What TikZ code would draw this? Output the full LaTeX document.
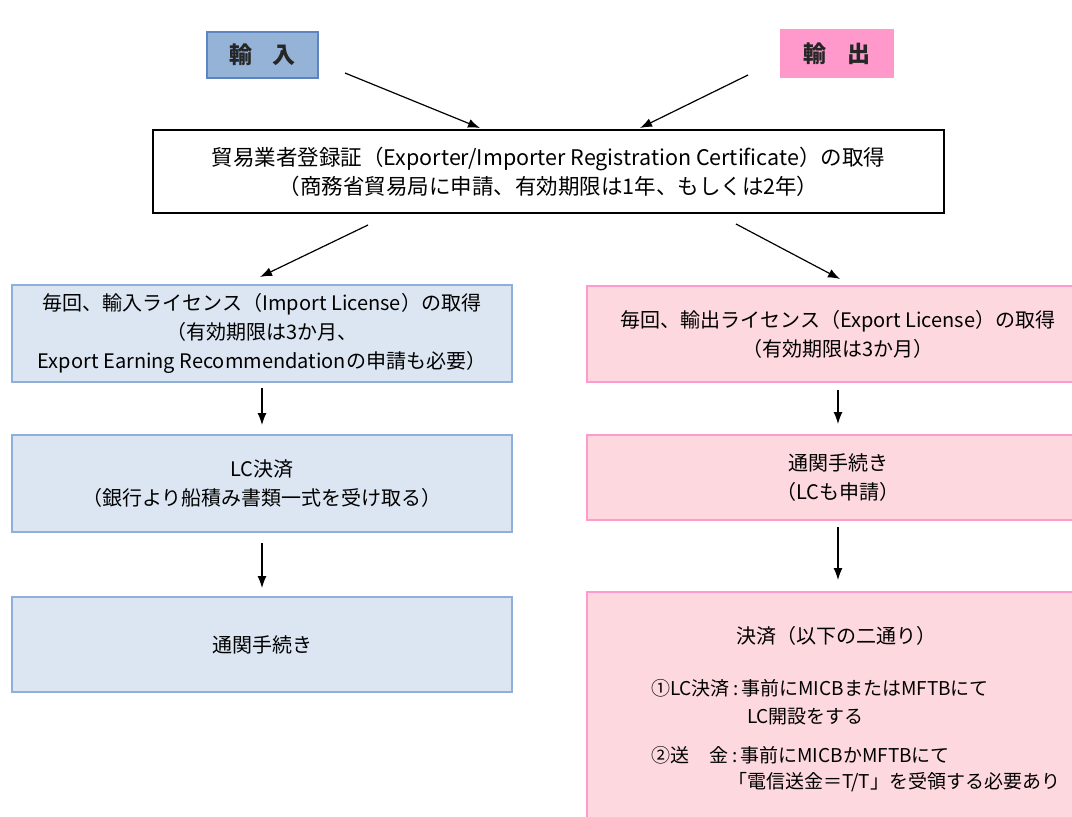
\documentclass[tikz,border=0pt]{standalone}
\usepackage{fontspec}
\setmainfont{Noto Sans CJK JP}
\usetikzlibrary{arrows.meta}
\definecolor{impfill}{HTML}{95B3D7}
\definecolor{impline}{HTML}{5B84C0}
\definecolor{expfill}{HTML}{FF99CC}
\definecolor{lfill}{HTML}{DCE6F2}
\definecolor{lline}{HTML}{8EAFD8}
\definecolor{rfill}{HTML}{FDD9DF}
\definecolor{rline}{HTML}{FF9ACD}
\tikzset{
  box/.style={draw, rectangle, inner sep=0pt, outer sep=0pt, align=center,
    font=\fontsize{20}{29}\selectfont, line width=1.4pt},
  lbox/.style={box, fill=lfill, draw=lline, minimum width=500pt},
  rbox/.style={box, fill=rfill, draw=rline, minimum width=502pt},
  head/.style={box, font=\fontsize{23}{26}\selectfont\bfseries, text=black!85},
  txt/.style={inner sep=0pt, outer sep=0pt, anchor=west, font=\fontsize{19}{29}\selectfont},
  arr/.style={-{Latex[length=12pt,width=9pt]}, line width=1.2pt, black}
}
\begin{document}
\begin{tikzpicture}[x=1pt,y=-1pt]
\clip (0,0) rectangle (1072,817);
\fill[white] (0,0) rectangle (1072,817);

\node[head, fill=impfill, draw=impline, minimum width=111pt, minimum height=46pt] (imp) at (262.5,55) {輸\hspace{0.9em}入};
\node[head, fill=expfill, draw=expfill, minimum width=112pt, minimum height=47pt] (exp) at (837,53.5) {輸\hspace{0.9em}出};

\node[box, fill=white, draw=black, line width=1.2pt, minimum width=791pt, minimum height=83pt,
  font=\fontsize{21.5}{29}\selectfont] (reg) at (548.5,171.5)
  {貿易業者登録証（Exporter/Importer Registration Certificate）の取得\\（商務省貿易局に申請、有効期限は1年、もしくは2年）};

\node[lbox, minimum height=97pt] (L1) at (262,333.5)
  {毎回、輸入ライセンス（Import License）の取得\\（有効期限は3か月、\\Export Earning Recommendationの申請も必要）};
\node[lbox, minimum height=97pt] (L2) at (262,483.5)
  {LC決済\\（銀行より船積み書類一式を受け取る）};
\node[lbox, minimum height=95pt] (L3) at (262,644.5) {通関手続き};

\node[rbox, minimum height=96pt] (R1) at (838,334)
  {毎回、輸出ライセンス（Export License）の取得\\（有効期限は3か月）};
\node[rbox, minimum height=85pt] (R2) at (838,477.5)
  {通関手続き\\（LCも申請）};
\node[rbox, minimum height=240pt] (R3) at (838,712) {};

\node[txt, anchor=center, font=\fontsize{20}{29}\selectfont] (r3t) at (836,636) {決済（以下の二通り）};
\node[txt] (i1a) at (651,688) {①LC決済\,:\,事前にMICBまたはMFTBにて};
\node[txt] (i1b) at (747,717) {LC開設をする};
\node[txt] (i2a) at (651,755) {②送\hspace{1.1em}金\,:\,事前にMICBかMFTBにて};
\node[txt] (i2b) at (728,782) {「電信送金＝T/T」を受領する必要あり};

\draw[arr] ([shift={(27,-5)}]imp.south east) -- ([shift={(327,-2)}]reg.north west);
\draw[arr] ([shift={(-33,-2)}]exp.south west) -- ([shift={(487,-2)}]reg.north west);
\draw[arr] ([shift={(215,12)}]reg.south west) -- ([shift={(-2,-8)}]L1.north);
\draw[arr] ([shift={(583,11)}]reg.south west) -- ([shift={(2,-7)}]R1.north);

\draw[arr, shorten <=6pt, shorten >=10pt] (L1.south) -- (L2.north);
\draw[arr, shorten <=11pt, shorten >=9pt] (L2.south) -- (L3.north);
\draw[arr, shorten <=8pt, shorten >=11pt] (R1.south) -- (R2.north);
\draw[arr, shorten <=7pt, shorten >=12pt] (R2.south) -- (R3.north);
\end{tikzpicture}
\end{document}
